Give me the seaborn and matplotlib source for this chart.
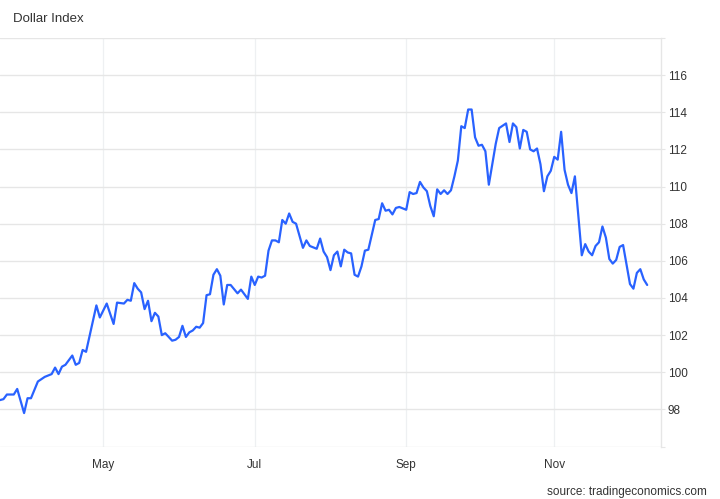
import matplotlib
matplotlib.use("Agg")
import matplotlib.pyplot as plt
import seaborn as sns
import pandas as pd

# trading-day offset from 2022-03-21 and index level
day = [0, 1, 2, 4, 5, 7, 8, 9, 11, 13, 15, 16, 17, 18, 19, 21, 22, 23, 24, 25,
       28, 29, 31, 33, 34, 36, 37, 38, 39, 40, 41, 42, 43, 44, 45, 46, 47, 48, 50, 51,
       52, 53, 54, 55, 56, 57, 58, 59, 60, 61, 62, 63, 64, 65, 66, 67, 69, 70, 72, 73,
       74, 75, 76, 77, 78, 79, 80, 81, 82, 83, 84, 85, 86, 88, 89, 90, 92, 93, 94, 95,
       96, 97, 98, 99, 100, 101, 102, 103, 104, 105, 106, 107, 109, 110, 111, 112, 113, 114, 115, 116,
       118, 119, 120, 121, 122, 123, 124, 125, 126, 127, 128, 129, 130, 131, 132, 133, 134, 135, 136, 137,
       138, 139, 140, 141, 142, 144, 145, 147, 148, 149, 150, 151, 152, 153, 154, 155, 156, 157, 158, 159,
       160, 161, 162, 163, 164, 165, 166, 167, 169, 170, 171, 172, 173, 174, 175, 176, 177, 178, 179, 180,
       181, 183, 184, 185, 186, 187, 188]
dxy = [98.5, 98.55, 98.8, 98.8, 99.1, 97.8, 98.6, 98.6, 99.5, 99.75,
       99.9, 100.25, 99.9, 100.3, 100.4, 100.9, 100.4, 100.5, 101.2, 101.1,
       103.6, 102.95, 103.7, 102.6, 103.75, 103.7, 103.9, 103.85, 104.8, 104.5,
       104.3, 103.4, 103.85, 102.75, 103.2, 103.0, 102.0, 102.1, 101.7, 101.75,
       101.9, 102.5, 101.9, 102.15, 102.25, 102.45, 102.4, 102.65, 104.15, 104.2,
       105.25, 105.55, 105.2, 103.65, 104.7, 104.7, 104.25, 104.45, 103.95, 105.15,
       104.7, 105.15, 105.1, 105.2, 106.55, 107.1, 107.1, 107.0, 108.2, 108.0,
       108.55, 108.1, 108.0, 106.7, 107.1, 106.8, 106.65, 107.2, 106.5, 106.2,
       105.5, 106.3, 106.5, 105.7, 106.6, 106.45, 106.4, 105.25, 105.15, 105.7,
       106.55, 106.6, 108.2, 108.25, 109.1, 108.7, 108.75, 108.5, 108.85, 108.9,
       108.75, 109.7, 109.6, 109.65, 110.25, 109.95, 109.75, 108.95, 108.4, 109.85,
       109.6, 109.8, 109.6, 109.8, 110.55, 111.4, 113.25, 113.15, 114.15, 114.15,
       112.65, 112.2, 112.25, 111.9, 110.1, 112.3, 113.15, 113.4, 112.4, 113.4,
       113.2, 112.05, 113.05, 112.95, 112.0, 111.9, 112.05, 111.2, 109.75, 110.55,
       110.85, 111.6, 111.45, 112.95, 110.9, 110.1, 109.65, 110.55, 106.3, 106.9,
       106.5, 106.3, 106.8, 107.0, 107.85, 107.25, 106.1, 105.85, 106.05, 106.75,
       106.85, 104.75, 104.5, 105.35, 105.55, 105.0, 104.7]
y_ticks = [96, 98, 100, 102, 104, 106, 108, 110, 112, 114, 116, 118]
label_months = [5, 7, 9, 11]

df = pd.DataFrame({"day": day, "dxy": dxy})

# first trading day of each labelled month
dates = pd.bdate_range("2022-03-21", periods=192)
month_pos, month_lbl = [], []
for i in range(1, len(dates)):
    if dates[i].month != dates[i - 1].month and dates[i].month in label_months:
        month_pos.append(i)
        month_lbl.append(dates[i].strftime("%b"))

sns.set_style("white")
plt.rcParams["font.family"] = ["Liberation Sans", "DejaVu Sans"]

fig = plt.figure(figsize=(7.2, 4.99), dpi=100)
ax = fig.add_axes([0, 0.1052, 0.918, 0.8186])

sns.lineplot(x="day", y="dxy", data=df, color="#2962ff", linewidth=1.6, ax=ax)

ax.set_xlim(0, 192)
ax.set_ylim(96, 118)
ax.set_xticks(month_pos)
ax.set_xticklabels(month_lbl)
ax.set_yticks(y_ticks)
ax.set_yticklabels(["" if v in (96, 118) else str(v) for v in y_ticks])
ax.yaxis.tick_right()
ax.grid(True, axis="y", color="#e6e6e6", linewidth=1)
ax.grid(True, axis="x", color="#eef0f2", linewidth=0.9)
ax.set_axisbelow(True)
ax.set_xlabel("")
ax.set_ylabel("")

for side in ["left", "top", "bottom"]:
    ax.spines[side].set_visible(False)
ax.spines["right"].set_color("#e6e6e6")
ax.spines["right"].set_linewidth(1)

ax.tick_params(axis="y", length=3, color="#e6e6e6", pad=2, labelsize=8.5, labelcolor="#333333")
ax.tick_params(axis="x", length=0, pad=9, labelsize=8.5, labelcolor="#333333")

fig.text(13 / 720, 1 - 19 / 499, "Dollar Index", fontsize=9.5, color="#333333", va="center")
fig.text(707 / 720, 1 - 492 / 499, "source: tradingeconomics.com", fontsize=8.5,
         color="#333333", ha="right", va="center")

fig.savefig("out.png", dpi=100)
